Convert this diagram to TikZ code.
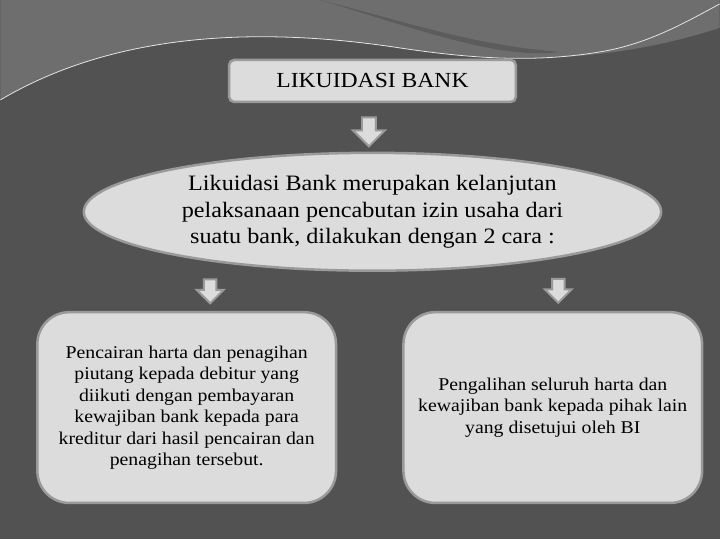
\documentclass[tikz,border=0pt]{standalone}
\usepackage{fontspec}
\setmainfont[FakeStretch=1.1]{Liberation Serif}
\usetikzlibrary{calc}
\usetikzlibrary{positioning}
\usetikzlibrary{shapes.geometric}
\usetikzlibrary{shapes.arrows}
\definecolor{bgdark}{HTML}{525252}
\definecolor{bglight}{HTML}{6E6E6E}
\definecolor{bgstreak}{HTML}{5C5C5C}
\definecolor{boxfill}{HTML}{DCDCDC}
\definecolor{boxline}{HTML}{9A9A9A}
\tikzstyle{titlenode} = [draw=boxline, fill=boxfill, line width=2.5pt, rounded corners=5pt, minimum width=287pt, minimum height=42pt, font=\fontsize{21.5}{24}\selectfont]
\tikzstyle{ovalnode} = [draw=boxline, fill=boxfill, line width=2.5pt, ellipse, minimum width=578pt, minimum height=118pt, inner sep=0pt, align=center, font=\fontsize{22}{26.5}\selectfont]
\tikzstyle{boxnode} = [draw=boxline, fill=boxfill, line width=2.5pt, rounded corners=32pt, minimum width=299pt, minimum height=191pt, align=center, font=\fontsize{18}{21.5}\selectfont]
\tikzstyle{downarrow} = [draw=boxline, fill=boxfill, line width=2pt, single arrow, shape border rotate=270, inner sep=6pt, minimum height=29pt, single arrow head extend=9pt]
\tikzstyle{smallarrow} = [downarrow, inner sep=5.25pt, minimum height=24pt, single arrow head extend=7.25pt]

\begin{document}
\begin{tikzpicture}[x=1pt, y=-1pt]
    \fill[bgdark] (0,0) rectangle (720,540);
    \fill[bglight] (0,0) -- (0,100) .. controls (110,35) and (250,25) .. (400,48) .. controls (520,66) and (620,60) .. (720,28) -- (720,0) -- cycle;
    \fill[bgstreak] (320,0) .. controls (400,20) and (470,45) .. (560,52) .. controls (500,60) and (420,30) .. (320,0) -- cycle;
    \draw[white!80!gray, line width=0.8pt] (0,100) .. controls (110,35) and (250,25) .. (400,48) .. controls (480,60) and (540,62) .. (600,52) .. controls (650,44) and (690,20) .. (720,4);

    \node[titlenode] (title) at (372.5,81) {LIKUIDASI BANK};
    \node[downarrow] (arr_title) at ($(title)+(-3.5,47.5)$) {};

    \node[ovalnode] (cara) at ($(title)+(0,131)$) {Likuidasi Bank merupakan kelanjutan\\pelaksanaan pencabutan izin usaha dari\\suatu bank, dilakukan dengan 2 cara :};
    \node[smallarrow] (arr_left) at ($(cara)+(-162.5,76.5)$) {};
    \node[smallarrow] (arr_right) at ($(cara)+(186,76)$) {};

    \node[boxnode] (cara_a) at ($(cara)+(-186,196)$) {Pencairan harta dan penagihan\\piutang kepada debitur yang\\diikuti dengan pembayaran\\kewajiban bank kepada para\\kreditur dari hasil pencairan dan\\penagihan tersebut.};
    \node[boxnode] (cara_b) at ($(cara)+(180.5,196)$) {Pengalihan seluruh harta dan\\kewajiban bank kepada pihak lain\\yang disetujui oleh BI};
\end{tikzpicture}
\end{document}
